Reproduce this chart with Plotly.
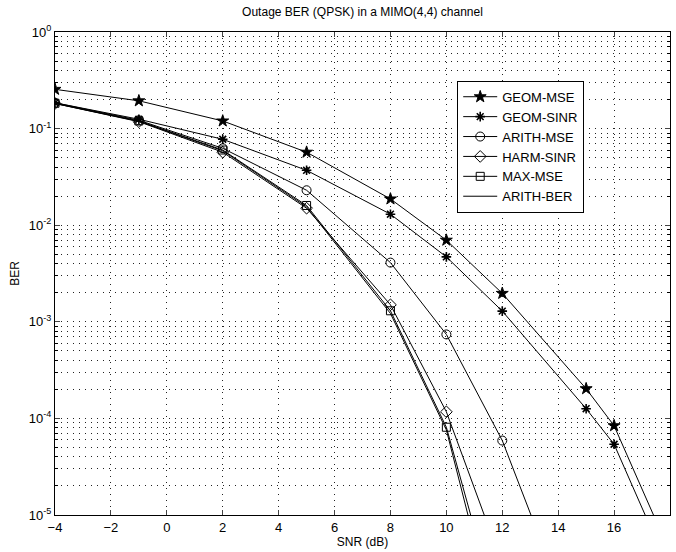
import plotly.graph_objects as go

geom_mse_x = [-4, -1, 2, 5, 8, 10, 12, 15, 16, 18]
geom_mse = [0.255, 0.194, 0.12, 0.057, 0.0187, 0.0070, 0.00197, 2.03e-4, 8.4e-5, 4.1e-6]

geom_sinr_x = [-4, -1, 2, 5, 8, 10, 12, 15, 16, 18]
geom_sinr = [0.185, 0.125, 0.0775, 0.037, 0.013, 0.0047, 0.00129, 1.26e-4, 5.4e-5, 2.6e-6]

arith_mse_x = [-4, -1, 2, 5, 8, 10, 12, 15]
arith_mse = [0.185, 0.122, 0.0625, 0.023, 0.0041, 7.4e-4, 5.9e-5, 3.3e-7]

harm_sinr_x = [-4, -1, 2, 5, 8, 10, 12]
harm_sinr = [0.182, 0.118, 0.057, 0.015, 0.0015, 1.17e-4, 3.1e-6]

max_mse_x = [-4, -1, 2, 5, 8, 10, 12]
max_mse = [0.183, 0.12, 0.06, 0.016, 0.0013, 8.1e-5, 6.6e-7]

arith_ber_x = [-4, -1, 2, 5, 8, 10, 12]
arith_ber = [0.182, 0.119, 0.059, 0.0155, 0.00122, 7.6e-5, 4e-7]

series = [
    ("GEOM-MSE", geom_mse_x, geom_mse, "star", 9, 1),
    ("GEOM-SINR", geom_sinr_x, geom_sinr, "asterisk-open", 8, 1.6),
    ("ARITH-MSE", arith_mse_x, arith_mse, "circle-open", 9, 1),
    ("HARM-SINR", harm_sinr_x, harm_sinr, "diamond-open", 9, 1),
    ("MAX-MSE", max_mse_x, max_mse, "square-open", 8, 1),
    ("ARITH-BER", arith_ber_x, arith_ber, None, 0, 0),
]

x_ticks = [-4, -2, 0, 2, 4, 6, 8, 10, 12, 14, 16, 18]
y_tickvals = [1, 0.1, 0.01, 0.001, 1e-4, 1e-5]
y_ticktext = ["10<sup>0</sup>", "10<sup>-1</sup>", "10<sup>-2</sup>",
              "10<sup>-3</sup>", "10<sup>-4</sup>", "10<sup>-5</sup>"]

fig = go.Figure()
for name, xs, ys, sym, sz, lw in series:
    if sym:
        fig.add_trace(go.Scatter(
            x=xs, y=ys, name=name, mode="lines+markers",
            line=dict(color="black", width=1),
            marker=dict(symbol=sym, size=sz, color="black",
                        line=dict(color="black", width=lw))))
    else:
        fig.add_trace(go.Scatter(
            x=xs, y=ys, name=name, mode="lines",
            line=dict(color="black", width=1)))

font = "Liberation Sans, Arial, Helvetica, sans-serif"
grid_dash = "1px,5px"
fig.update_layout(
    width=676, height=552,
    margin=dict(l=55, r=6, t=32, b=37),
    paper_bgcolor="white", plot_bgcolor="white",
    font=dict(family=font, size=12, color="black"),
    title=dict(text="Outage BER (QPSK) in a MIMO(4,4) channel",
               x=0.5, xanchor="center", xref="paper",
               y=0.978, yanchor="middle", font=dict(size=12)),
    legend=dict(x=0.654, y=0.899, xanchor="left", yanchor="top",
                bgcolor="white", bordercolor="black", borderwidth=1,
                font=dict(size=13), tracegroupgap=0, itemwidth=34),
    showlegend=True,
)
fig.update_xaxes(
    range=[-4, 18], tickvals=x_ticks, ticks="inside", ticklen=5,
    showline=True, linecolor="black", linewidth=1, mirror="ticks",
    showgrid=True, gridcolor="#222222", griddash=grid_dash, gridwidth=1,
    zeroline=False, tickfont=dict(size=13),
    title=dict(text="SNR (dB)", font=dict(size=12), standoff=4),
)
fig.update_yaxes(
    type="log", range=[-5, 0], tickvals=y_tickvals, ticktext=y_ticktext,
    ticks="inside", ticklen=5,
    showline=True, linecolor="black", linewidth=1, mirror="ticks",
    showgrid=True, gridcolor="#222222", griddash=grid_dash, gridwidth=1,
    zeroline=False, tickfont=dict(size=13),
    minor=dict(ticks="inside", ticklen=3, showgrid=True, gridcolor="#222222",
               griddash=grid_dash, gridwidth=1, dtick="D1", tickcolor="black"),
    title=dict(text="BER", font=dict(size=12), standoff=6),
)
fig.write_html("out.html")
